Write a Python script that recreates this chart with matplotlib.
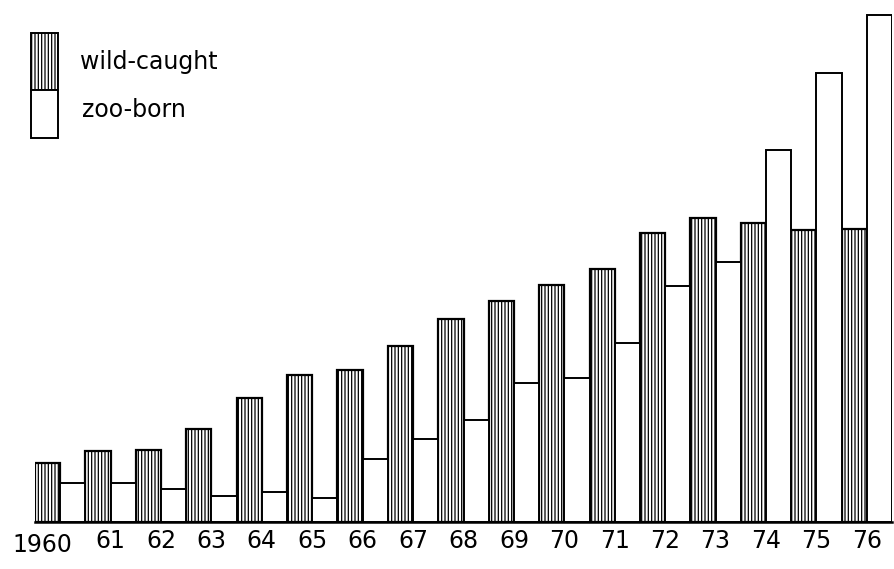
import matplotlib
matplotlib.use("Agg")
import matplotlib.pyplot as plt
import matplotlib.transforms as mtransforms
from matplotlib.patches import Rectangle

plt.rcParams["font.family"] = ["DejaVu Sans"]
plt.rcParams["hatch.linewidth"] = 0.9

years = ["1960", "61", "62", "63", "64", "65", "66", "67", "68",
         "69", "70", "71", "72", "73", "74", "75", "76"]
wild_caught = [58, 70, 71, 92, 122, 145, 150, 174, 200,
               218, 234, 250, 285, 300, 295, 288, 289]
zoo_born = [38, 38, 33, 26, 30, 24, 62, 82, 101,
            137, 142, 177, 233, 256, 367, 443, 500]

fig = plt.figure(figsize=(8.94, 5.69), dpi=100)
ax = fig.add_axes([35 / 894, 47 / 569, 857 / 894, 512 / 569])

x = list(range(len(years)))
ax.bar([i - 0.5 for i in x], wild_caught, width=0.5, align="edge",
       facecolor="white", edgecolor="black", linewidth=1.6, hatch="|||||")
ax.bar(x, zoo_born, width=0.5, align="edge",
       facecolor="white", edgecolor="black", linewidth=1.4)

ax.set_xlim(-0.5, len(years) - 0.5)
ax.set_ylim(0, 505)
for s in ["top", "right", "left"]:
    ax.spines[s].set_visible(False)
ax.spines["bottom"].set_linewidth(1.8)
ax.set_yticks([])
ax.set_xticks(x)
labels = ax.set_xticklabels(years, fontsize=17)
ax.tick_params(axis="x", length=0, pad=5)
# "1960" sits to the left of its pair so it doesn't run into "61"
shift = mtransforms.ScaledTranslation(-0.18, -0.04, fig.dpi_scale_trans)
labels[0].set_transform(labels[0].get_transform() + shift)

# legend drawn by hand: one box, hatched top half, plain bottom half
fig.patches.append(Rectangle((31 / 894, 1 - 90 / 569), 27 / 894, 57 / 569,
                             transform=fig.transFigure, facecolor="white",
                             edgecolor="black", linewidth=1.4, hatch="|||||"))
fig.patches.append(Rectangle((31 / 894, 1 - 138 / 569), 27 / 894, 48 / 569,
                             transform=fig.transFigure, facecolor="white",
                             edgecolor="black", linewidth=1.4))
fig.text(80 / 894, 1 - 62 / 569, "wild-caught", fontsize=17, va="center", ha="left")
fig.text(82 / 894, 1 - 110 / 569, "zoo-born", fontsize=17, va="center", ha="left")

fig.savefig("out.png", dpi=100)
